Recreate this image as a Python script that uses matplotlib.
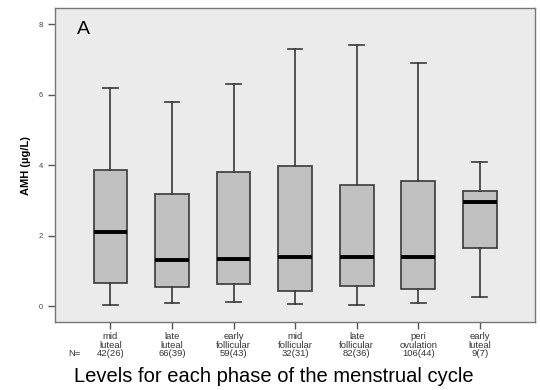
import matplotlib
matplotlib.use("Agg")
import matplotlib.pyplot as plt

plt.rcParams['font.family'] = ['Liberation Sans', 'DejaVu Sans']

# phases of the cycle, with N = samples(women)
phases = ["mid\nluteal", "late\nluteal", "early\nfollicular", "mid\nfollicular",
          "late\nfollicular", "peri\novulation", "early\nluteal"]
counts = ["42(26)", "66(39)", "59(43)", "32(31)", "82(36)", "106(44)", "9(7)"]

# box plot stats (AMH, ug/L)
whisker_low = [0.05, 0.09, 0.11, 0.06, 0.03, 0.08, 0.25]
q1 = [0.65, 0.54, 0.62, 0.42, 0.57, 0.48, 1.64]
median = [2.10, 1.30, 1.33, 1.40, 1.39, 1.39, 2.95]
q3 = [3.85, 3.17, 3.80, 3.97, 3.45, 3.54, 3.26]
whisker_high = [6.20, 5.78, 6.29, 7.30, 7.42, 6.91, 4.08]

stats = []
for i in range(len(phases)):
    stats.append({'whislo': whisker_low[i], 'q1': q1[i], 'med': median[i],
                  'q3': q3[i], 'whishi': whisker_high[i], 'fliers': []})

fig = plt.figure(figsize=(5.4, 3.9), dpi=100)
ax = fig.add_axes([0.102, 0.174, 0.889, 0.805])
ax.set_facecolor('#ebebeb')

edge = '#3a3a3a'
ax.bxp(stats, positions=range(1, 8), widths=0.55, patch_artist=True,
       showfliers=False,
       boxprops=dict(facecolor='#c0c0c0', edgecolor=edge, linewidth=1.2),
       medianprops=dict(color='black', linewidth=2.8),
       whiskerprops=dict(color=edge, linewidth=1.2),
       capprops=dict(color=edge, linewidth=1.2),
       capwidths=0.24)

ax.set_xlim(0.1, 7.9)
ax.set_ylim(-0.45, 8.45)
ax.set_yticks([0, 2, 4, 6, 8])
ax.set_xticks(range(1, 8))
ax.set_xticklabels([p + "\n" + c for p, c in zip(phases, counts)],
                   fontsize=6.8, color='#333333', linespacing=0.95)
ax.tick_params(axis='y', labelsize=5.5, labelcolor='#444444', color='#555555',
               length=5, width=1)
ax.tick_params(axis='x', color='#555555', length=5, width=1, pad=2)
for s in ax.spines.values():
    s.set_color('#777777')
    s.set_linewidth(1)

ax.set_ylabel("AMH (\u00b5g/L)", fontsize=8, fontweight='bold', labelpad=6)
ax.text(0.045, 0.96, "A", transform=ax.transAxes, fontsize=14, va='top')

fig.text(68 / 540, 1 - 353 / 390, "N=", fontsize=6.8, color='#333333',
         ha='left', va='center')
fig.text(274 / 540, 1 - 377 / 390, "Levels for each phase of the menstrual cycle",
         fontsize=14.5, ha='center', va='center')

fig.savefig("out.png", dpi=100)
